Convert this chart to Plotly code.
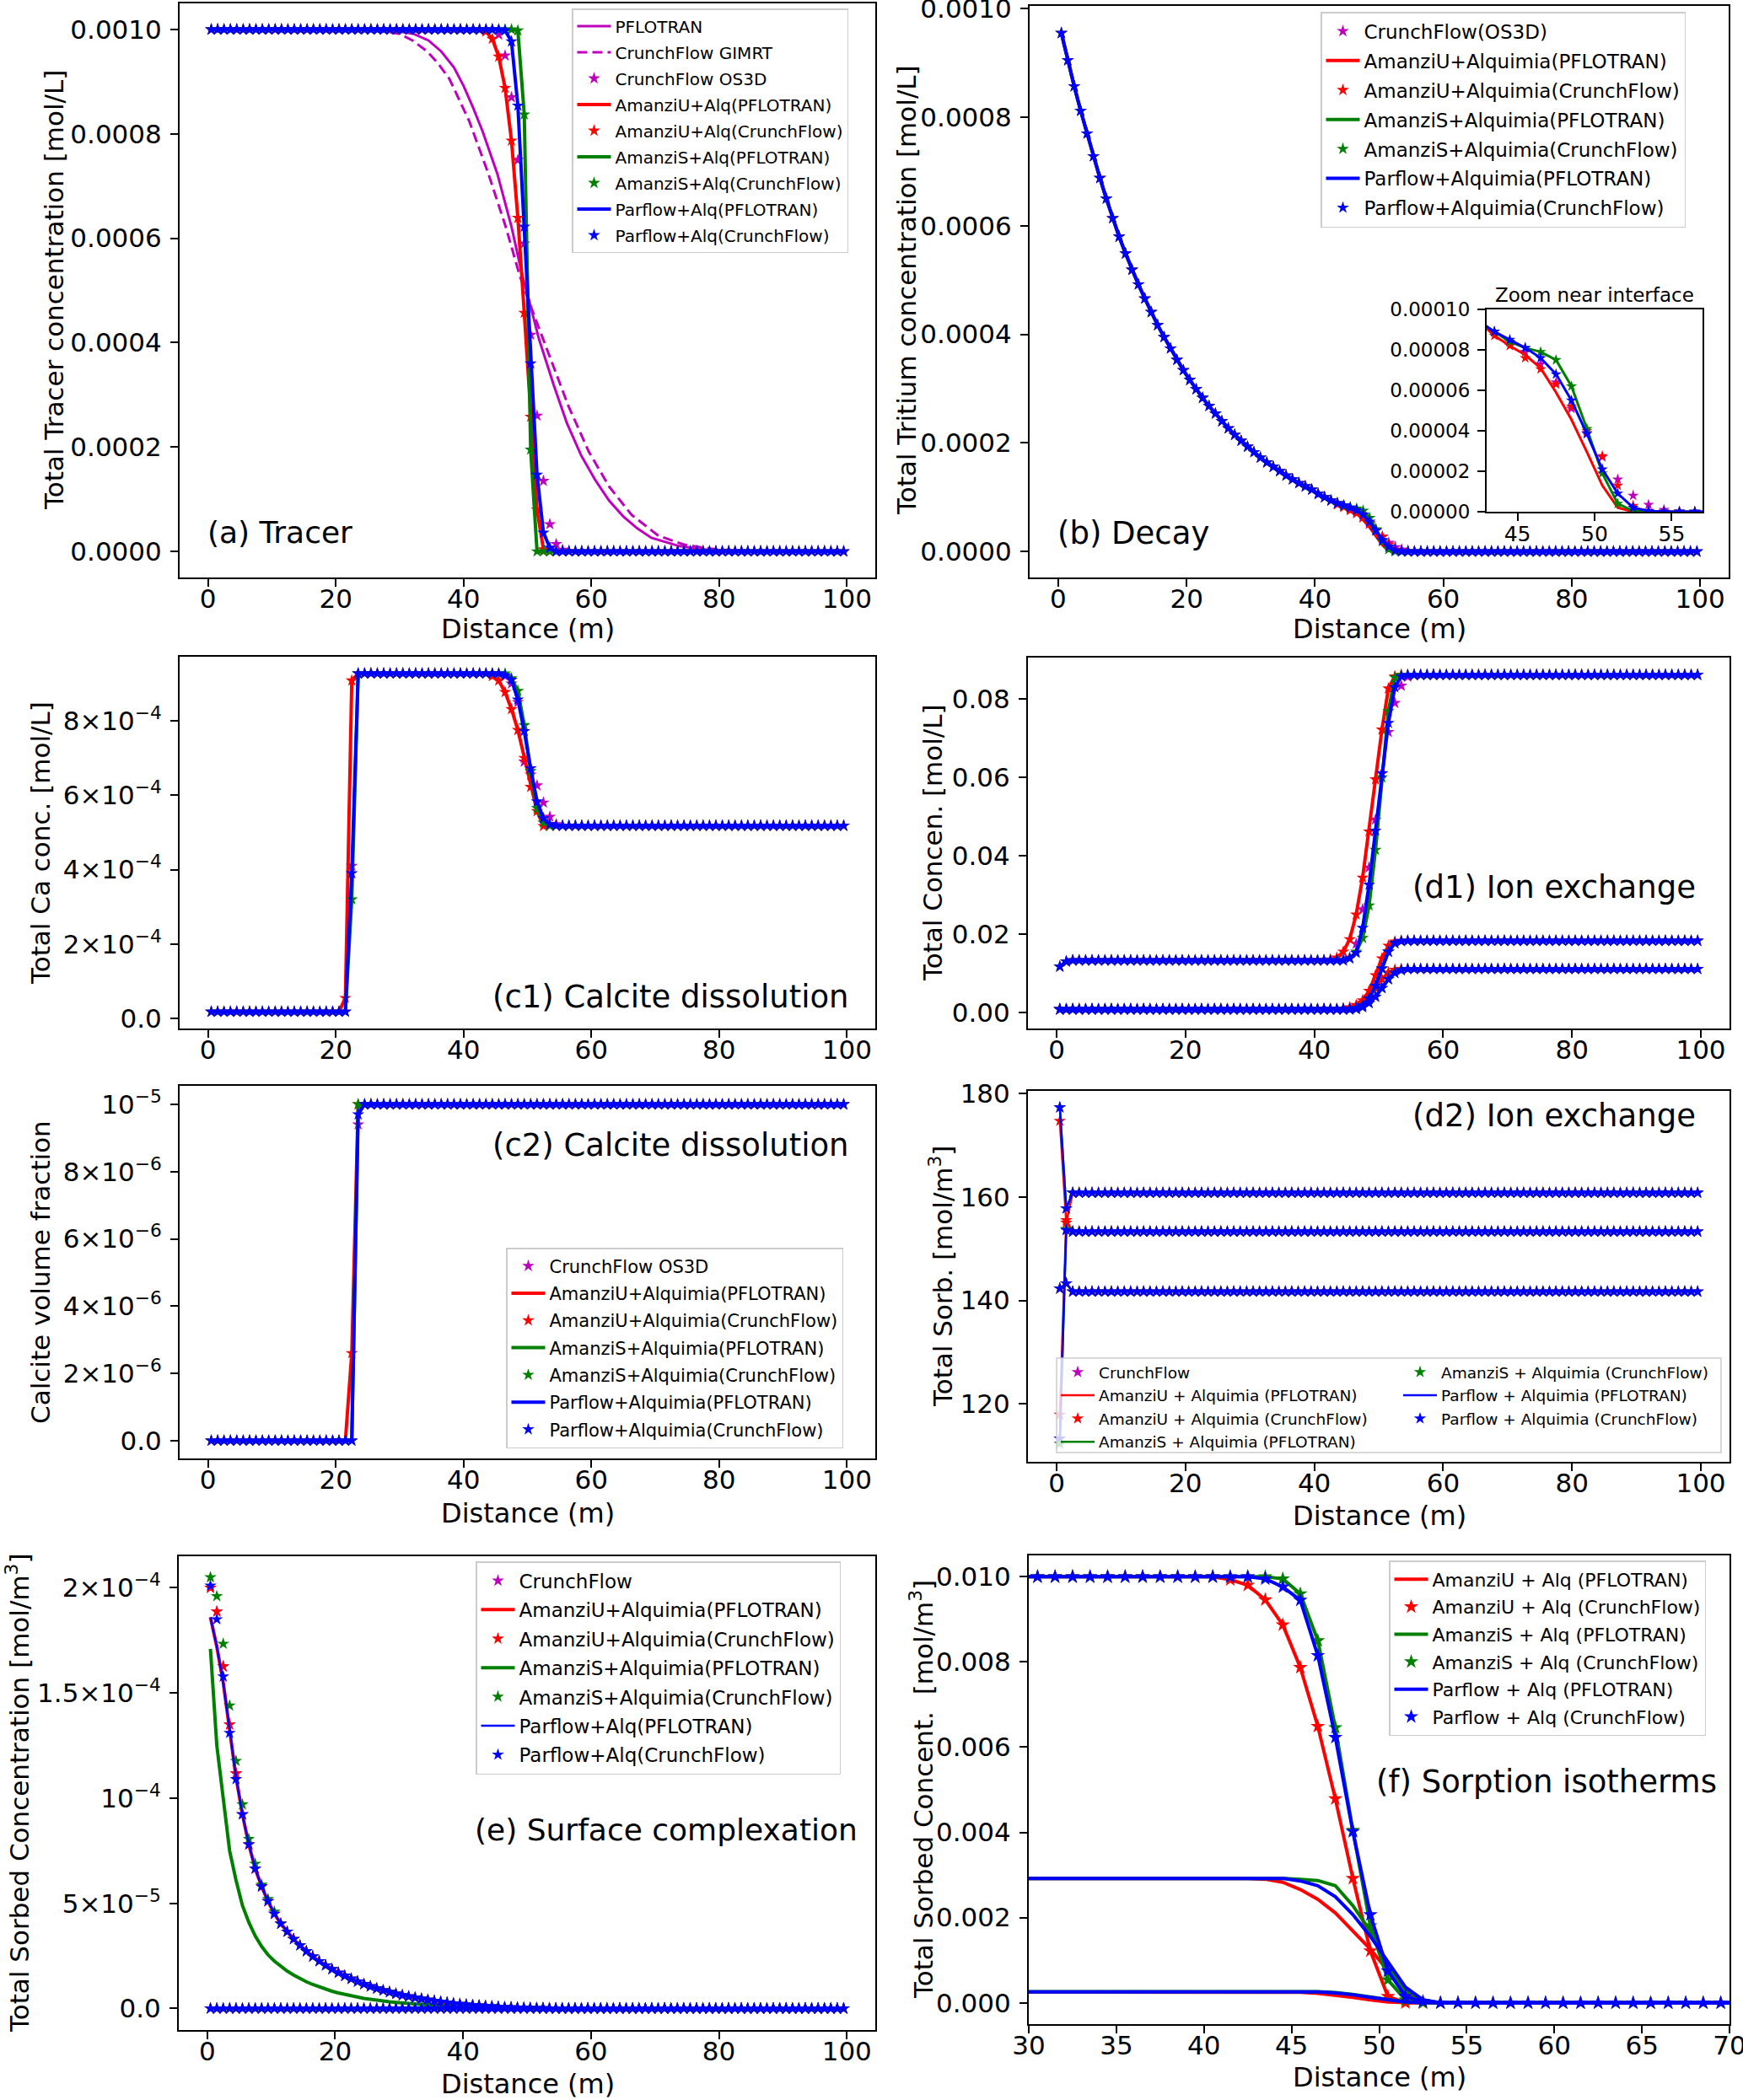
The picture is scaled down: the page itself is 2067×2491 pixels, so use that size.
import plotly.graph_objects as go

W, H = 2067, 2491
FONT = "DejaVu Sans"
M, R, G, B = "#bf00bf", "#ff0000", "#008000", "#0000ff"

# ---------------- data ----------------
X = [i + 0.5 for i in range(100)]          # cell centres, m

# (a) Tracer, values in 1e-3 mol/L
A_PF_X = [0, 25, 29, 32.1, 34.5, 36.5, 38.5, 40, 41.5, 43, 45.3, 47.5, 49.2, 50.1, 51.8, 54.1,
          56.2, 58.4, 60.6, 62.8, 65, 67.2, 69.4, 73.8, 78.2, 82, 90, 100]
A_PF = [1.0, 1.0, 0.998, 0.992, 0.979, 0.958, 0.927, 0.892, 0.85, 0.804, 0.723, 0.622, 0.528,
        0.488, 0.407, 0.319, 0.245, 0.184, 0.137, 0.097, 0.067, 0.044, 0.026, 0.010, 0.003,
        0.001, 0.0, 0.0]
A_GI_X = [0, 22, 26, 29.9, 32, 34.3, 36, 37.8, 40.9, 43.9, 46.6, 48.8, 50.5, 53.3, 56.4, 59.6,
          62.8, 66.3, 70.5, 74.5, 78, 82, 90, 100]
A_GI = [1.0, 1.0, 0.998, 0.992, 0.979, 0.958, 0.935, 0.905, 0.824, 0.723, 0.622, 0.528, 0.47,
        0.38, 0.279, 0.191, 0.124, 0.070, 0.030, 0.013, 0.006, 0.002, 0.0, 0.0]
A_OS3D = [1.0] * 45 + [0.99, 0.95, 0.87, 0.75, 0.59, 0.415, 0.26, 0.135, 0.052, 0.014, 0.003] + [0.0] * 44
A_AMU = [1.0] * 42 + [0.999, 0.996, 0.982, 0.948, 0.888, 0.787, 0.639, 0.457, 0.258, 0.08, 0.004] + [0.0] * 47
A_AMS = [1.0] * 48 + [0.998, 0.837, 0.195] + [0.0] * 49
A_PAR = [1.0] * 46 + [0.998, 0.977, 0.854, 0.622, 0.36, 0.147, 0.036, 0.007] + [0.0] * 46

# (b) Decay, values in 1e-3 mol/L
B_HEAD = [0.955, 0.905, 0.857, 0.812, 0.770, 0.728, 0.688, 0.650, 0.614, 0.580, 0.549, 0.519,
          0.492, 0.466, 0.441, 0.417, 0.395, 0.374, 0.353, 0.334, 0.316, 0.299, 0.283, 0.268,
          0.254, 0.240, 0.227, 0.215, 0.204, 0.193, 0.183, 0.173, 0.164, 0.156, 0.148, 0.140,
          0.133, 0.126, 0.120, 0.114, 0.106, 0.100, 0.094]
B_OS3D = B_HEAD + [0.089, 0.084, 0.079, 0.073, 0.064, 0.051, 0.039, 0.027, 0.016, 0.008, 0.0035, 0.001, 0.0002] + [0.0] * 44
B_AMU = B_HEAD + [0.087, 0.082, 0.0775, 0.071, 0.059, 0.0455, 0.0295, 0.013, 0.002] + [0.0] * 48
B_AMU_CF = B_HEAD + [0.087, 0.082, 0.076, 0.0705, 0.063, 0.052, 0.040, 0.0275, 0.013, 0.003, 0.0005] + [0.0] * 46
B_AMS = B_HEAD + [0.089, 0.084, 0.081, 0.079, 0.075, 0.062, 0.041, 0.019, 0.004, 0.0004] + [0.0] * 47
B_PAR = B_HEAD + [0.089, 0.085, 0.081, 0.076, 0.068, 0.055, 0.0385, 0.021, 0.009, 0.002, 0.0004] + [0.0] * 46

# (c1) Total Ca, values in 1e-4 mol/L
C1_OS3D = [0.18] * 22 + [4.1] + [9.27] * 23 + [9.2, 9.0, 8.5, 6.9, 6.55, 6.26, 5.8, 5.42, 5.22] + [5.18] * 45
C1_AMU = [0.18] * 21 + [0.55, 9.08] + [9.27] * 21 + [9.2, 9.08, 8.77, 8.31, 7.75, 7.0, 6.22, 5.57, 5.17] + [5.18] * 47
C1_AMS = [0.18] * 22 + [3.2] + [9.27] * 24 + [9.14, 8.8, 7.88, 6.65, 5.65, 5.26] + [5.18] * 47
C1_PAR = [0.18] * 22 + [3.9] + [9.27] * 23 + [9.22, 9.1, 8.57, 7.72, 6.72, 5.83, 5.38, 5.22] + [5.18] * 46

# (c2) Calcite volume fraction, values in 1e-5
C2_OS3D = [0.0] * 23 + [0.94] + [1.0] * 76
C2_AMU = [0.0] * 22 + [0.26] + [1.0] * 77
C2_AMS = [0.0] * 23 + [1.0] * 77
C2_PAR = [0.0] * 23 + [0.97] + [1.0] * 76

# (d1) Ion exchange, mol/L
D1_HEAD = [0.0117, 0.0130]
D1_TOP_OS3D = D1_HEAD + [0.0133] * 43 + [0.0140, 0.0175, 0.0263, 0.037, 0.0492, 0.061, 0.0716, 0.079, 0.0834, 0.0857, 0.0861] + [0.0862] * 44
D1_TOP_AMU = D1_HEAD + [0.0133] * 40 + [0.0135, 0.0140, 0.0155, 0.0187, 0.025, 0.0344, 0.0462, 0.0595, 0.0722, 0.0827, 0.0858] + [0.0862] * 47
D1_TOP_AMS = D1_HEAD + [0.0133] * 43 + [0.0138, 0.0155, 0.019, 0.0273, 0.0415, 0.060, 0.0769, 0.0855, 0.0861] + [0.0862] * 46
D1_TOP_PAR = D1_HEAD + [0.0133] * 43 + [0.0138, 0.0152, 0.0216, 0.0326, 0.0464, 0.0611, 0.0739, 0.083, 0.0858, 0.0861] + [0.0862] * 45
D1_MID_AMU = [0.0008] * 44 + [0.0010, 0.0013, 0.0019, 0.0031, 0.0055, 0.0095, 0.0138, 0.0170, 0.0181, 0.0183] + [0.0183] * 46
D1_MID_OTH = [0.0008] * 46 + [0.0011, 0.0018, 0.0035, 0.0068, 0.0112, 0.0155, 0.0177, 0.0182, 0.0183] + [0.0183] * 45
D1_LOW_AMU = [0.0008] * 45 + [0.0010, 0.0015, 0.0025, 0.0040, 0.0062, 0.0085, 0.0102, 0.0109, 0.0111] + [0.0111] * 46
D1_LOW_OTH = [0.0008] * 46 + [0.0009, 0.0014, 0.0024, 0.0040, 0.0062, 0.0085, 0.0101, 0.0108, 0.0111] + [0.0111] * 45

# (d2) Ion exchange sorbed, mol/m3
D2_A_AMU = [174.7, 155.0] + [160.8] * 98
D2_A_OTH = [177.3, 157.8] + [160.8] * 98
D2_B_AMU = [117.9, 155.5] + [153.3] * 98
D2_B_AMS = [112.3, 153.8] + [153.3] * 98
D2_B_PAR = [113.3, 153.6] + [153.3] * 98
D2_C = [142.3, 143.3] + [141.7] * 98

# (e) Surface complexation, values in 1e-4 mol/m3
E_TAIL = [0.923, 0.78, 0.665, 0.58, 0.51, 0.45, 0.403, 0.365, 0.33, 0.30, 0.272, 0.247, 0.225,
          0.205, 0.187, 0.170, 0.155, 0.141, 0.128, 0.116, 0.105, 0.095, 0.086, 0.078, 0.070,
          0.063, 0.057, 0.051, 0.046, 0.041, 0.036, 0.032, 0.028, 0.024, 0.021, 0.018, 0.016,
          0.014, 0.012, 0.010, 0.008, 0.006, 0.005, 0.004, 0.003, 0.002, 0.0015, 0.001, 0.0005]
E_AMU = [2.0, 1.887, 1.626, 1.35, 1.117] + E_TAIL + [0.0] * 46
E_PAR = [2.01, 1.85, 1.578, 1.31, 1.09] + E_TAIL + [0.0] * 46
E_AMS_CF = [2.05, 1.96, 1.734, 1.44, 1.177, 0.97, 0.806, 0.688, 0.588, 0.52, 0.46] + E_TAIL[6:] + [0.0] * 46
E_LINE = [1.86, 1.72, 1.55, 1.32, 1.10] + E_TAIL + [0.0] * 46
E_AMS_PF = [1.71, 1.25, 1.0, 0.75, 0.61, 0.49, 0.41, 0.345, 0.295, 0.255, 0.225, 0.2, 0.178, 0.159,
            0.141, 0.127, 0.114, 0.102, 0.092, 0.082, 0.074, 0.067, 0.060, 0.054, 0.048, 0.044,
            0.039, 0.035, 0.032, 0.029, 0.026, 0.023, 0.021, 0.019, 0.017, 0.015, 0.013, 0.011,
            0.010, 0.008, 0.007, 0.006, 0.005, 0.004, 0.003, 0.002, 0.0015, 0.001, 0.0005] + [0.0] * 51
E_ZERO = [0.0] * 100

# (f) Sorption isotherms, values in 1e-3 mol/m3
F_TOP_AMU = [10.0] * 41 + [9.93, 9.8, 9.46, 8.87, 7.87, 6.49, 4.79, 2.92, 1.22, 0.15, 0.0] + [0.0] * 48
F_TOP_AMS = [10.0] * 44 + [9.95, 9.6, 8.5, 6.46, 4.05, 1.81, 0.54, 0.07, 0.0] + [0.0] * 47
F_TOP_PAR = [10.0] * 43 + [9.95, 9.76, 9.45, 8.15, 6.23, 4.02, 2.07, 0.75, 0.15, 0.03, 0.0] + [0.0] * 46
F_MID_AMU = [2.92] * 43 + [2.9, 2.83, 2.66, 2.43, 2.11, 1.68, 1.26, 0.75, 0.24, 0.04] + [0.0] * 47
F_MID_AMS = [2.92] * 45 + [2.9, 2.87, 2.75, 2.28, 1.68, 0.83, 0.28, 0.07] + [0.0] * 47
F_MID_PAR = [2.92] * 45 + [2.86, 2.75, 2.49, 2.07, 1.56, 0.96, 0.37, 0.07] + [0.0] * 47
F_LOW_AMU = [0.264] * 44 + [0.26, 0.245, 0.22, 0.18, 0.13, 0.07, 0.02, 0.003] + [0.0] * 48
F_LOW_AMS = [0.264] * 46 + [0.26, 0.24, 0.2, 0.14, 0.07, 0.02, 0.003] + [0.0] * 47
F_LOW_PAR = [0.264] * 46 + [0.255, 0.23, 0.19, 0.13, 0.065, 0.02, 0.003] + [0.0] * 47

for _arr in [A_OS3D, A_AMU, A_AMS, A_PAR, B_OS3D, B_AMU, B_AMU_CF, B_AMS, B_PAR, C1_OS3D, C1_AMU,
             C1_AMS, C1_PAR, C2_OS3D, C2_AMU, C2_AMS, C2_PAR, D1_TOP_OS3D, D1_TOP_AMU, D1_TOP_AMS,
             D1_TOP_PAR, D1_MID_AMU, D1_MID_OTH, D1_LOW_AMU, D1_LOW_OTH, E_AMU, E_PAR, E_AMS_CF,
             E_LINE, E_AMS_PF, F_TOP_AMU, F_TOP_AMS, F_TOP_PAR, F_MID_AMU, F_MID_AMS, F_MID_PAR,
             F_LOW_AMU, F_LOW_AMS, F_LOW_PAR]:
    assert len(_arr) == 100, len(_arr)

# ---------------- figure ----------------
def px(v):
    return v / W


def py(v):
    return 1 - v / H


fig = go.Figure()
LW = 4


def line(ax, x, y, color, name=None, legend="legend", dash=None, width=LW, scale=1.0):
    fig.add_trace(go.Scatter(
        x=x, y=[v * scale for v in y], mode="lines", xaxis="x" + ax, yaxis="y" + ax,
        line=dict(color=color, width=width, dash=dash), name=name or "",
        showlegend=name is not None, legend=legend, legendgroup=f"{legend}|{name}",
        hoverinfo="skip"))


def stars(ax, x, y, color, name=None, legend="legend", size=11, scale=1.0):
    fig.add_trace(go.Scatter(
        x=x, y=[v * scale for v in y], mode="markers", xaxis="x" + ax, yaxis="y" + ax,
        marker=dict(symbol="star", size=size, color=color, line=dict(width=0)),
        name=name or "", showlegend=name is not None, legend=legend,
        legendgroup=f"{legend}|{name}", hoverinfo="skip"))


# (a)
s = 1e-3
line("", A_PF_X, A_PF, M, "PFLOTRAN", "legend", width=3, scale=s)
line("", A_GI_X, A_GI, M, "CrunchFlow GIMRT", "legend", width=3, dash="12px,6px", scale=s)
stars("", X, A_OS3D, M, "CrunchFlow OS3D", "legend", scale=s)
line("", X, A_AMU, R, "AmanziU+Alq(PFLOTRAN)", "legend", scale=s)
stars("", X, A_AMU, R, "AmanziU+Alq(CrunchFlow)", "legend", scale=s)
line("", X, A_AMS, G, "AmanziS+Alq(PFLOTRAN)", "legend", scale=s)
stars("", X, A_AMS, G, "AmanziS+Alq(CrunchFlow)", "legend", scale=s)
line("", X, A_PAR, B, "Parflow+Alq(PFLOTRAN)", "legend", scale=s)
stars("", X, A_PAR, B, "Parflow+Alq(CrunchFlow)", "legend", scale=s)

# (b) and inset
for ax, show, sz, lw in [("2", True, 11, 4), ("3", False, 10, 3)]:
    nm = (lambda t: t) if show else (lambda t: None)
    stars(ax, X, B_OS3D, M, nm("CrunchFlow(OS3D)"), "legend2", size=sz, scale=s)
    line(ax, X, B_AMU, R, nm("AmanziU+Alquimia(PFLOTRAN)"), "legend2", width=lw, scale=s)
    stars(ax, X, B_AMU_CF, R, nm("AmanziU+Alquimia(CrunchFlow)"), "legend2", size=sz, scale=s)
    line(ax, X, B_AMS, G, nm("AmanziS+Alquimia(PFLOTRAN)"), "legend2", width=lw, scale=s)
    stars(ax, X, B_AMS, G, nm("AmanziS+Alquimia(CrunchFlow)"), "legend2", size=sz, scale=s)
    line(ax, X, B_PAR, B, nm("Parflow+Alquimia(PFLOTRAN)"), "legend2", width=lw, scale=s)
    stars(ax, X, B_PAR, B, nm("Parflow+Alquimia(CrunchFlow)"), "legend2", size=sz, scale=s)

# (c1)
s = 1e-4
stars("4", X, C1_OS3D, M, scale=s)
line("4", X, C1_AMU, R, scale=s)
stars("4", X, C1_AMU, R, scale=s)
line("4", X, C1_AMS, G, scale=s)
stars("4", X, C1_AMS, G, scale=s)
line("4", X, C1_PAR, B, scale=s)
stars("4", X, C1_PAR, B, scale=s)

# (d1)
for top, mid, low, col, kind in [
        (D1_TOP_OS3D, D1_MID_OTH, D1_LOW_OTH, M, "s"),
        (D1_TOP_AMU, D1_MID_AMU, D1_LOW_AMU, R, "ls"),
        (D1_TOP_AMS, D1_MID_OTH, D1_LOW_OTH, G, "ls"),
        (D1_TOP_PAR, D1_MID_OTH, D1_LOW_OTH, B, "ls")]:
    for arr in (top, mid, low):
        if "l" in kind:
            line("5", X, arr, col)
        stars("5", X, arr, col)

# (c2)
s = 1e-5
stars("6", X, C2_OS3D, M, "CrunchFlow OS3D", "legend3", scale=s)
line("6", X, C2_AMU, R, "AmanziU+Alquimia(PFLOTRAN)", "legend3", scale=s)
stars("6", X, C2_AMU, R, "AmanziU+Alquimia(CrunchFlow)", "legend3", scale=s)
line("6", X, C2_AMS, G, "AmanziS+Alquimia(PFLOTRAN)", "legend3", scale=s)
stars("6", X, C2_AMS, G, "AmanziS+Alquimia(CrunchFlow)", "legend3", scale=s)
line("6", X, C2_PAR, B, "Parflow+Alquimia(PFLOTRAN)", "legend3", scale=s)
stars("6", X, C2_PAR, B, "Parflow+Alquimia(CrunchFlow)", "legend3", scale=s)

# (d2)
d2_sets = {
    "m": [D2_A_OTH, D2_B_PAR, D2_C],
    "r": [D2_A_AMU, D2_B_AMU, D2_C],
    "g": [D2_A_OTH, D2_B_AMS, D2_C],
    "b": [D2_A_OTH, D2_B_PAR, D2_C],
}
for i, arr in enumerate(d2_sets["m"]):
    stars("7", X, arr, M, "CrunchFlow" if i == 0 else None, "legend4")
for i, arr in enumerate(d2_sets["r"]):
    line("7", X, arr, R, "AmanziU + Alquimia (PFLOTRAN)" if i == 0 else None, "legend4", width=2.5)
for i, arr in enumerate(d2_sets["r"]):
    stars("7", X, arr, R, "AmanziU + Alquimia (CrunchFlow)" if i == 0 else None, "legend4")
for i, arr in enumerate(d2_sets["g"]):
    line("7", X, arr, G, "AmanziS + Alquimia (PFLOTRAN)" if i == 0 else None, "legend4", width=2.5)
for i, arr in enumerate(d2_sets["g"]):
    stars("7", X, arr, G, "AmanziS + Alquimia (CrunchFlow)" if i == 0 else None, "legend5")
for i, arr in enumerate(d2_sets["b"]):
    line("7", X, arr, B, "Parflow + Alquimia (PFLOTRAN)" if i == 0 else None, "legend5", width=2.5)
for i, arr in enumerate(d2_sets["b"]):
    stars("7", X, arr, B, "Parflow + Alquimia (CrunchFlow)" if i == 0 else None, "legend5")

# (e)
s = 1e-4
for i, arr in enumerate([E_AMU, E_ZERO]):
    stars("8", X, arr, M, "CrunchFlow" if i == 0 else None, "legend6", scale=s)
for i, arr in enumerate([E_LINE, E_ZERO]):
    line("8", X, arr, R, "AmanziU+Alquimia(PFLOTRAN)" if i == 0 else None, "legend6", scale=s)
for i, arr in enumerate([E_AMU, E_ZERO]):
    stars("8", X, arr, R, "AmanziU+Alquimia(CrunchFlow)" if i == 0 else None, "legend6", scale=s)
for i, arr in enumerate([E_AMS_PF, E_ZERO]):
    line("8", X, arr, G, "AmanziS+Alquimia(PFLOTRAN)" if i == 0 else None, "legend6", scale=s)
for i, arr in enumerate([E_AMS_CF, E_ZERO]):
    stars("8", X, arr, G, "AmanziS+Alquimia(CrunchFlow)" if i == 0 else None, "legend6", scale=s)
for i, arr in enumerate([E_LINE, E_ZERO]):
    line("8", X, arr, B, "Parflow+Alq(PFLOTRAN)" if i == 0 else None, "legend6", width=2.5, scale=s)
for i, arr in enumerate([E_PAR, E_ZERO]):
    stars("8", X, arr, B, "Parflow+Alq(CrunchFlow)" if i == 0 else None, "legend6", scale=s)

# (f)
s = 1e-3
line("9", X, F_TOP_AMU, R, "AmanziU + Alq (PFLOTRAN)", "legend7", scale=s)
line("9", X, F_MID_AMU, R, None, "legend7", scale=s)
line("9", X, F_LOW_AMU, R, None, "legend7", scale=s)
stars("9", X, F_TOP_AMU, R, "AmanziU + Alq (CrunchFlow)", "legend7", size=13, scale=s)
line("9", X, F_TOP_AMS, G, "AmanziS + Alq (PFLOTRAN)", "legend7", scale=s)
line("9", X, F_MID_AMS, G, None, "legend7", scale=s)
line("9", X, F_LOW_AMS, G, None, "legend7", scale=s)
stars("9", X, F_TOP_AMS, G, "AmanziS + Alq (CrunchFlow)", "legend7", size=13, scale=s)
line("9", X, F_TOP_PAR, B, "Parflow + Alq (PFLOTRAN)", "legend7", scale=s)
line("9", X, F_MID_PAR, B, None, "legend7", scale=s)
line("9", X, F_LOW_PAR, B, None, "legend7", scale=s)
stars("9", X, F_TOP_PAR, B, "Parflow + Alq (CrunchFlow)", "legend7", size=13, scale=s)

# ---------------- axes ----------------
COMMON = dict(showline=True, linecolor="black", linewidth=2, mirror=True, ticks="outside",
              ticklen=9, tickwidth=2, tickcolor="black", showgrid=False, zeroline=False,
              automargin=False, ticklabeloverflow="allow")


def xax(x0, x1, anchor, rng, dtick=20, tick0=0, fs=31, standoff=-12):
    return dict(COMMON, domain=[px(x0), px(x1)], anchor=anchor, range=rng, dtick=dtick,
                tick0=tick0, ticklabelstandoff=standoff,
                tickfont=dict(family=FONT, size=fs, color="black"))


def yax(top, bot, anchor, rng, fs=31, **kw):
    return dict(COMMON, domain=[py(bot), py(top)], anchor=anchor, range=rng,
                ticklabelstandoff=4, tickfont=dict(family=FONT, size=fs, color="black"), **kw)


XR = [-4.45, 104.45]


def sci(vals, texts):
    return dict(tickmode="array", tickvals=vals, ticktext=texts)


layout = dict(
    template="none",
    width=W, height=H, margin=dict(l=0, r=0, t=0, b=0, pad=0, autoexpand=False),
    paper_bgcolor="white", plot_bgcolor="white",
    font=dict(family=FONT, color="black"),
    xaxis=xax(213, 1038, "y", XR),
    yaxis=yax(4, 685, "x", [-0.00005, 0.00105], dtick=0.0002, tickformat=".4f"),
    xaxis2=xax(1221, 2050, "y2", XR),
    yaxis2=yax(7, 685, "x2", [-0.0000478, 0.001005], dtick=0.0002, tickformat=".4f"),
    xaxis3=xax(1763, 2019, "y3", [43, 57], dtick=5, tick0=45, fs=25, standoff=-6),
    yaxis3=yax(367, 607, "x3", [0, 0.0001], fs=23, dtick=0.00002, tickformat=".5f"),
    xaxis4=xax(213, 1038, "y4", XR),
    yaxis4=yax(779, 1220, "x4", [-0.000027, 0.000972],
               **sci([0, 2e-4, 4e-4, 6e-4, 8e-4],
                     ["0.0", "2×10<sup>−4</sup>", "4×10<sup>−4</sup>", "6×10<sup>−4</sup>",
                      "8×10<sup>−4</sup>"])),
    xaxis5=xax(1219, 2051, "y5", XR),
    yaxis5=yax(780, 1220, "x5", [-0.0041, 0.0906], dtick=0.02, tickformat=".2f"),
    xaxis6=xax(213, 1038, "y6", XR),
    yaxis6=yax(1288, 1730, "x6", [-0.053e-5, 1.055e-5],
               **sci([0, 2e-6, 4e-6, 6e-6, 8e-6, 1e-5],
                     ["0.0", "2×10<sup>−6</sup>", "4×10<sup>−6</sup>", "6×10<sup>−6</sup>",
                      "8×10<sup>−6</sup>", "10<sup>−5</sup>"])),
    xaxis7=xax(1219, 2051, "y7", XR),
    yaxis7=yax(1294, 1734, "x7", [108.8, 180.5], dtick=20, tick0=120),
    xaxis8=xax(212, 1038, "y8", XR),
    yaxis8=yax(1846, 2408, "x8", [-0.1025e-4, 2.15e-4],
               **sci([0, 5e-5, 1e-4, 1.5e-4, 2e-4],
                     ["0.0", "5×10<sup>−5</sup>", "10<sup>−4</sup>", "1.5×10<sup>−4</sup>",
                      "2×10<sup>−4</sup>"])),
    xaxis9=xax(1220, 2051, "y9", [30, 70], dtick=5, tick0=30),
    yaxis9=yax(1845, 2401, "x9", [-0.0005, 0.0105], dtick=0.002, tickformat=".3f"),
)


def leg(x, y, fs, gap, box=True):
    d = dict(x=px(x), y=py(y), xanchor="left", yanchor="top",
             font=dict(family=FONT, size=fs, color="black"),
             traceorder="grouped", tracegroupgap=gap, itemwidth=40)
    if box:
        d.update(bgcolor="rgba(255,255,255,0.8)", bordercolor="#cccccc", borderwidth=1.5)
    else:
        d.update(bgcolor="rgba(0,0,0,0)", borderwidth=0)
    return d


layout.update(
    legend=leg(678, 10, 20, 2),
    legend2=leg(1566, 14, 23, 2),
    legend3=leg(600, 1480, 21, 2),
    legend4=leg(1253, 1609, 18.5, 0.5, box=False),
    legend5=leg(1659, 1609, 18.5, 0.5, box=False),
    legend6=leg(564, 1852, 23, 1.5),
    legend7=leg(1647, 1851, 22, 1),
)

fig.update_layout(**layout)

fig.add_shape(type="rect", xref="paper", yref="paper", x0=px(1253), x1=px(2041),
              y0=py(1723), y1=py(1611), fillcolor="rgba(255,255,255,0.8)",
              line=dict(color="#cccccc", width=1.5), layer="above")


def ann(text, x, y, size, xanchor="center", angle=0):
    fig.add_annotation(text=text, x=px(x), y=py(y), xref="paper", yref="paper",
                       xanchor=xanchor, yanchor="middle", showarrow=False, textangle=angle,
                       font=dict(family=FONT, size=size, color="black"))


# axis titles
ann("Total Tracer concentration [mol/L]", 64, 344, 31, angle=-90)
ann("Distance (m)", 626, 746, 32)
ann("Total Tritium concentration [mol/L]", 1075, 344, 31, angle=-90)
ann("Distance (m)", 1636, 746, 32)
ann("Total Ca conc. [mol/L]", 48, 1000, 31, angle=-90)
ann("Calcite volume fraction", 48, 1509, 31, angle=-90)
ann("Distance (m)", 626, 1795, 32)
ann("Total Concen. [mol/L]", 1106, 1000, 31, angle=-90)
ann("Total Sorb. [mol/m<sup>3</sup>]", 1116, 1514, 31, angle=-90)
ann("Distance (m)", 1636, 1798, 32)
ann("Total Sorbed Concentration [mol/m<sup>3</sup>]", 21, 2127, 31, angle=-90)
ann("Distance (m)", 626, 2472, 32)
ann("Total Sorbed Concent.  [mol/m<sup>3</sup>]", 1093, 2123, 31, angle=-90)
ann("Distance (m)", 1636, 2464, 32)

# panel labels
ann("(a) Tracer", 244, 631, 36, xanchor="left")
ann("(b) Decay", 1252, 632, 37, xanchor="left")
ann("(c1) Calcite dissolution", 1009, 1182, 37, xanchor="right")
ann("(c2) Calcite dissolution", 1009, 1358, 37, xanchor="right")
ann("(d1) Ion exchange", 2013, 1052, 37, xanchor="right")
ann("(d2) Ion exchange", 2013, 1323, 37, xanchor="right")
ann("(e) Surface complexation", 1019, 2170, 36, xanchor="right")
ann("(f) Sorption isotherms", 2038, 2113, 37, xanchor="right")
ann("Zoom near interface", 1891, 350, 23)

fig.write_html("out.html", config={"displayModeBar": False},
               post_script="document.body.style.margin='0px';"
                           "document.body.style.overflow='hidden';")
